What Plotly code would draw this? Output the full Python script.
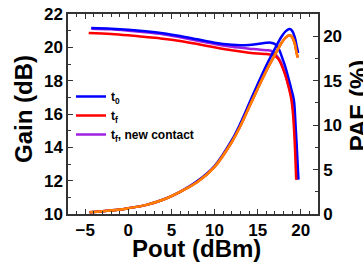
import plotly.graph_objects as go

# Gain data (dB)
pout_g_t0 = [-4.3, -2, 0, 2, 4, 6, 8, 10, 12, 13, 14, 15, 16, 16.5, 17, 17.5, 17.8, 18.2, 18.6, 18.9, 19.2, 19.4, 19.6, 19.73]
gain_t0 = [21.16, 21.12, 21.06, 20.97, 20.85, 20.68, 20.48, 20.28, 20.15, 20.12, 20.14, 20.2, 20.27, 20.28, 20.2, 19.85, 19.44, 18.85, 18.1, 17.5, 16.85, 15.3, 13.4, 12.06]

pout_g_tf = [-4.6, -2, 0, 2, 4, 6, 8, 10, 12, 14, 15, 16, 16.9, 17.4, 17.8, 18.2, 18.6, 18.9, 19.1, 19.3, 19.47]
gain_tf = [20.86, 20.8, 20.72, 20.62, 20.52, 20.38, 20.2, 20.0, 19.82, 19.68, 19.63, 19.6, 19.52, 19.3, 18.9, 18.35, 17.6, 16.9, 16.0, 14.3, 12.06]

pout_g_nc = [-4.3, -2, 0, 2, 4, 6, 8, 10, 12, 14, 15, 16, 16.6, 17.2, 17.6, 18.0, 18.4, 18.8, 19.1, 19.3, 19.55]
gain_nc = [21.12, 21.08, 21.0, 20.9, 20.78, 20.6, 20.4, 20.2, 20.03, 19.92, 19.88, 19.83, 19.78, 19.5, 19.2, 18.7, 18.05, 17.3, 16.4, 15.0, 12.06]

# PAE data (%)
pout_p_t0 = [-4.5, -3, -1, 0, 2, 4, 6, 8, 10, 12, 13, 14, 15, 16, 17, 17.8, 18.3, 18.7, 19.0, 19.3, 19.55, 19.7]
pae_t0 = [0.2, 0.3, 0.5, 0.65, 1.0, 1.6, 2.5, 3.7, 5.4, 8.3, 10.2, 12.4, 14.6, 16.7, 18.6, 20.0, 20.6, 20.8, 20.6, 19.9, 18.8, 18.1]

pout_p_tf = [-4.5, -3, -1, 0, 2, 4, 6, 8, 10, 12, 13, 14, 15, 16, 17, 17.8, 18.3, 18.7, 19.0, 19.3, 19.5, 19.65]
pae_tf = [0.2, 0.3, 0.5, 0.65, 1.0, 1.6, 2.5, 3.6, 5.3, 8.1, 9.9, 12.0, 14.1, 16.1, 17.9, 19.3, 19.9, 20.1, 19.9, 19.2, 18.2, 17.6]

legend_names = ["t<sub>0</sub>", "t<sub>f</sub>", "t<sub>f</sub>, new contact"]
x_title = "Pout (dBm)"
y_title = "Gain (dB)"
y2_title = "PAE (%)"

BLUE = "#0000FF"
RED = "#FF0000"
PURPLE = "#A020E0"
ORANGE = "#FF8000"
LW = 2.5

fig = go.Figure()
fig.add_trace(go.Scatter(x=pout_p_t0, y=pae_t0, mode="lines", yaxis="y2", showlegend=False,
                         line=dict(color=BLUE, width=LW, shape="spline")))
fig.add_trace(go.Scatter(x=pout_p_tf, y=pae_tf, mode="lines", yaxis="y2", showlegend=False,
                         line=dict(color=RED, width=LW, shape="spline")))
fig.add_trace(go.Scatter(x=pout_p_tf, y=pae_tf, mode="lines", yaxis="y2", showlegend=False,
                         line=dict(color=ORANGE, width=LW, shape="spline")))
fig.add_trace(go.Scatter(x=pout_g_nc, y=gain_nc, mode="lines", name=legend_names[2], legendrank=3,
                         line=dict(color=PURPLE, width=LW, shape="spline")))
fig.add_trace(go.Scatter(x=pout_g_t0, y=gain_t0, mode="lines", name=legend_names[0], legendrank=1,
                         line=dict(color=BLUE, width=LW, shape="spline")))
fig.add_trace(go.Scatter(x=pout_g_tf, y=gain_tf, mode="lines", name=legend_names[1], legendrank=2,
                         line=dict(color=RED, width=LW, shape="spline")))

FONT = "Liberation Sans"
tickfont = dict(family=FONT, size=17, color="black", weight="bold")
titlefont = dict(family=FONT, size=24, color="black", weight="bold")
AXC = "#333333"

fig.update_layout(
    width=363, height=266,
    margin=dict(l=68, r=45, t=14, b=52),
    paper_bgcolor="white", plot_bgcolor="white",
    font=dict(family=FONT, color="black"),
    xaxis=dict(range=[-7, 22], dtick=5, tick0=0, ticks="inside", ticklen=5, tickwidth=1.2, tickcolor=AXC,
               showline=True, linecolor=AXC, linewidth=1.5, mirror="ticks", showgrid=False, zeroline=False,
               tickfont=tickfont, automargin=False,
               minor=dict(dtick=1, ticks="inside", ticklen=3, tickcolor=AXC)),
    yaxis=dict(range=[10, 22], dtick=2, ticks="inside", ticklen=5, tickwidth=1.2, tickcolor=AXC,
               showline=True, linecolor=AXC, linewidth=1.5, showgrid=False, zeroline=False,
               tickfont=tickfont, automargin=False,
               minor=dict(dtick=1, ticks="inside", ticklen=3, tickcolor=AXC)),
    yaxis2=dict(range=[0, 22.5], dtick=5, overlaying="y", side="right", ticks="inside", ticklen=5,
                tickwidth=1.2, tickcolor=AXC, showline=True, linecolor=AXC, linewidth=1.5,
                showgrid=False, zeroline=False, tickfont=tickfont, automargin=False,
                minor=dict(dtick=2.5, ticks="inside", ticklen=3, tickcolor=AXC)),
    legend=dict(x=0.012, y=0.66, xanchor="left", yanchor="top", bgcolor="rgba(0,0,0,0)",
                font=dict(family=FONT, size=12, color="black", weight="bold"),
                tracegroupgap=0, itemwidth=30),
    annotations=[
        dict(text=x_title, xref="paper", yref="paper", x=0.514, y=-0.17, xanchor="center", yanchor="middle",
             showarrow=False, font=titlefont),
        dict(text=y_title, xref="paper", yref="paper", x=-0.18, y=0.525, xanchor="center", yanchor="middle",
             textangle=-90, showarrow=False, font=titlefont),
        dict(text=y2_title, xref="paper", yref="paper", x=1.165, y=0.545, xanchor="center", yanchor="middle",
             textangle=-90, showarrow=False, font=titlefont),
    ],
)

fig.write_html("out.html", config={"displayModeBar": False},
               post_script="document.body.style.margin='0';document.body.style.overflow='hidden';")
